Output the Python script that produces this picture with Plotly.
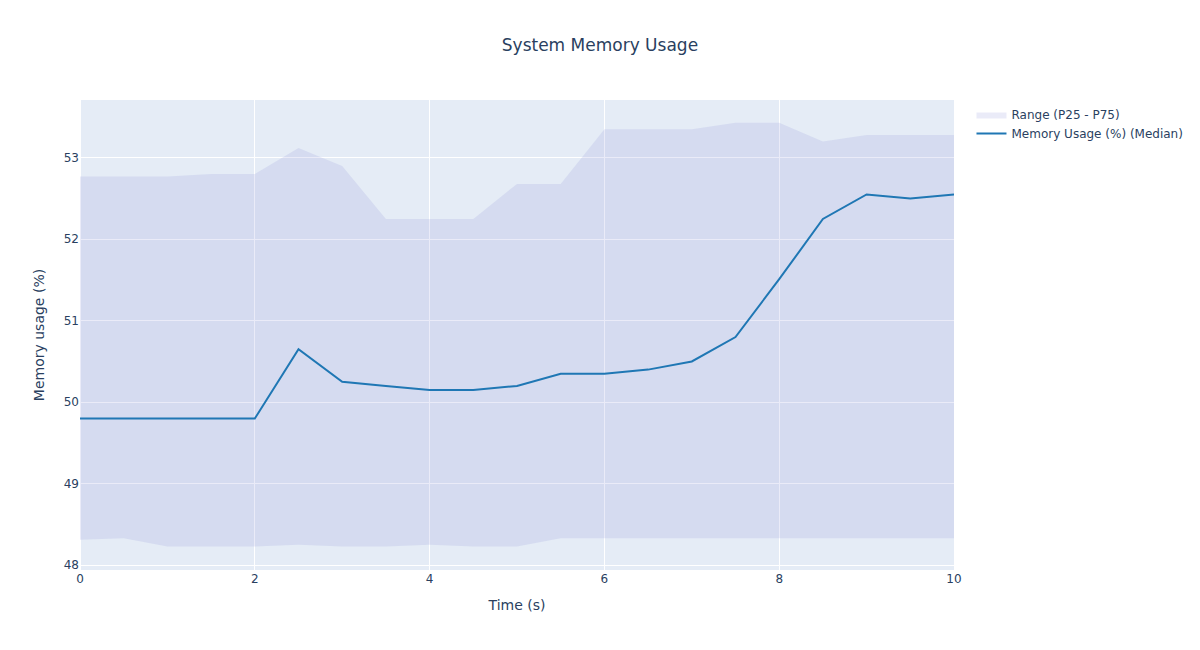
import plotly.graph_objects as go

time_s = [0, 0.5, 1, 1.5, 2, 2.5, 3, 3.5, 4, 4.5, 5, 5.5, 6, 6.5, 7, 7.5, 8, 8.5, 9, 9.5, 10]
median = [49.80, 49.80, 49.80, 49.80, 49.80, 50.65, 50.25, 50.20, 50.15, 50.15, 50.20,
          50.35, 50.35, 50.40, 50.50, 50.80, 51.51, 52.25, 52.55, 52.50, 52.55]
p75 = [52.77, 52.77, 52.77, 52.80, 52.80, 53.12, 52.90, 52.25, 52.25, 52.25, 52.68,
       52.68, 53.35, 53.35, 53.35, 53.43, 53.43, 53.20, 53.28, 53.28, 53.28]
p25 = [48.31, 48.33, 48.23, 48.23, 48.23, 48.25, 48.23, 48.23, 48.25, 48.23, 48.23,
       48.33, 48.33, 48.33, 48.33, 48.33, 48.33, 48.33, 48.33, 48.33, 48.33]
y_range = [47.94, 53.71]

fig = go.Figure()

# band: upper then lower reversed
fig.add_trace(go.Scatter(
    x=time_s + time_s[::-1],
    y=p75 + p25[::-1],
    fill='toself',
    fillcolor='rgba(150,155,218,0.2)',
    line=dict(color='rgba(255,255,255,0)'),
    hoverinfo='skip',
    name='Range (P25 - P75)'))

fig.add_trace(go.Scatter(
    x=time_s, y=median,
    mode='lines',
    line=dict(color='#1f77b4', width=2),
    name='Memory Usage (%) (Median)'))

# page body has an 8px margin, so shrink the figure a bit to fit the window
fig.update_layout(
    width=1192, height=642,
    margin=dict(l=72, t=92, b=80),
    template='plotly',
    font=dict(family='DejaVu Sans'),
    title=dict(text='System Memory Usage', x=0.4966, y=0.9424, yanchor='middle'),
    xaxis_title='Time (s)',
    yaxis_title='Memory usage (%)',
    xaxis=dict(range=[0, 10]),
    yaxis=dict(range=y_range))

fig.write_html("out.html")
